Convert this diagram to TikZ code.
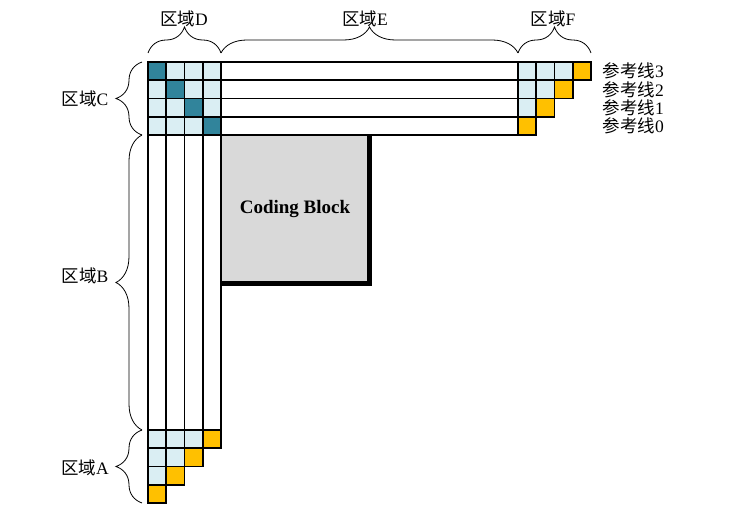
\documentclass[tikz,border=0pt]{standalone}
\usepackage{fontspec}
\setmainfont{Liberation Serif}
\newfontfamily\cjk{Noto Sans CJK SC}
\usetikzlibrary{decorations.pathreplacing}
\definecolor{lightcell}{HTML}{DAEEF3}
\definecolor{darkcell}{HTML}{31849B}
\definecolor{refcell}{HTML}{FFC000}
\definecolor{blockgray}{HTML}{D9D9D9}

\begin{document}
\begin{tikzpicture}[x=1pt, y=-1pt,
    every node/.style={font=\fontsize{17.5}{18}\selectfont},
    cell/.style={draw=black, line width=1.6pt},
    region brace/.style={decorate, decoration={brace, amplitude=26pt}, line width=0.8pt}]
  \def\cs{18.25}
  \def\xl{148} \def\xm{221} \def\xr{518}
  \def\yt{62} \def\ym{135} \def\yb{430}
  \useasboundingbox (0,0) rectangle (734,526);

  % top-left corner block
  \foreach \i in {0,...,3}
    \foreach \j in {0,...,3} {
      \ifnum\i=\j \def\cc{darkcell}\else \def\cc{lightcell}\fi
      \filldraw[cell, fill=\cc] (\xl+\i*\cs, \yt+\j*\cs) rectangle ++(\cs, \cs);
    }

  % reference lines above the block
  \foreach \j in {0,...,3} {
    \filldraw[cell, fill=white] (\xm, \yt+\j*\cs) rectangle (\xr, \yt+\j*\cs+\cs);
    \foreach \k in {0,...,3} {
      \pgfmathtruncatemacro{\last}{3-\j}
      \ifnum\k<\last
        \filldraw[cell, fill=lightcell] (\xr+\k*\cs, \yt+\j*\cs) rectangle ++(\cs, \cs);
      \else\ifnum\k=\last
        \filldraw[cell, fill=refcell] (\xr+\k*\cs, \yt+\j*\cs) rectangle ++(\cs, \cs);
      \fi\fi
    }
  }

  % reference lines left of the block
  \foreach \i in {0,...,3} {
    \filldraw[cell, fill=white] (\xl+\i*\cs, \ym) rectangle (\xl+\i*\cs+\cs, \yb);
    \foreach \m in {0,...,3} {
      \pgfmathtruncatemacro{\last}{3-\i}
      \ifnum\m<\last
        \filldraw[cell, fill=lightcell] (\xl+\i*\cs, \yb+\m*\cs) rectangle ++(\cs, \cs);
      \else\ifnum\m=\last
        \filldraw[cell, fill=refcell] (\xl+\i*\cs, \yb+\m*\cs) rectangle ++(\cs, \cs);
      \fi\fi
    }
  }

  % coding block
  \draw[line width=4pt, line cap=rect] (\xm+2, 284) -- (370, 284) -- (370, \ym+2);
  \filldraw[fill=blockgray, draw=black, line width=2.4pt] (\xm, \ym) rectangle (368, 282);
  \node[font=\fontsize{19}{20}\selectfont\bfseries] (cb) at (295, 209) {Coding Block};

  % braces
  \draw[region brace] (\xl, 53) -- (\xm, 53);
  \draw[region brace] (\xm, 53) -- (\xr, 53);
  \draw[region brace] (\xr, 53) -- (591, 53);
  \draw[region brace] (142, \ym) -- (142, \yt);
  \draw[region brace] (142, \yb) -- (142, \ym);
  \draw[region brace] (142, 503) -- (142, \yb);
  \node (rd) at (184, 19) {{\cjk 区域}D};
  \node (re) at (365, 19) {{\cjk 区域}E};
  \node (rf) at (553, 19) {{\cjk 区域}F};
  \node (rc) at (85, 99) {{\cjk 区域}C};
  \node (rb) at (85, 276) {{\cjk 区域}B};
  \node (ra) at (85, 468) {{\cjk 区域}A};

  % labels of the reference lines
  \foreach \j in {0,...,3} {
    \pgfmathtruncatemacro{\n}{3-\j}
    \node[anchor=west] (ref\n) at (599, \yt+\j*\cs+\cs/2) {{\cjk 参考线}\n};
  }
\end{tikzpicture}
\end{document}
